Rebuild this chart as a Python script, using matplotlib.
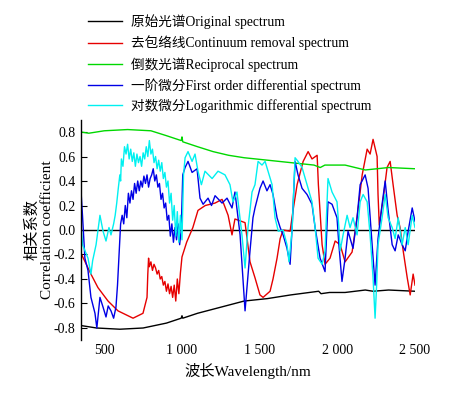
import numpy as np
import matplotlib
matplotlib.use("Agg")
import matplotlib.pyplot as plt

plt.rcParams["font.family"] = ["Liberation Serif", "Noto Sans CJK SC"]
plt.rcParams["axes.unicode_minus"] = False

# (wavelength nm, correlation)
original = [(350, -0.78), (400, -0.79), (450, -0.80), (600, -0.81), (750, -0.80), (900, -0.76),
            (995, -0.72), (1000, -0.70), (1005, -0.72), (1100, -0.68), (1250, -0.63), (1400, -0.58),
            (1550, -0.56), (1700, -0.53), (1880, -0.50), (1895, -0.52), (1950, -0.51), (2050, -0.51),
            (2180, -0.49), (2230, -0.50), (2330, -0.49), (2500, -0.50)]

continuum = [(350, -0.19), (414, -0.36), (459, -0.47), (524, -0.58), (588, -0.66), (685, -0.72),
             (749, -0.68), (775, -0.55), (780, -0.36), (785, -0.23), (790, -0.30), (800, -0.26),
             (810, -0.33), (820, -0.28), (830, -0.31), (840, -0.36), (850, -0.33), (860, -0.40),
             (870, -0.38), (880, -0.45), (890, -0.42), (900, -0.50), (910, -0.44), (920, -0.52),
             (930, -0.46), (940, -0.55), (950, -0.45), (960, -0.58), (970, -0.40), (980, -0.52),
             (990, -0.35), (1000, -0.22), (1030, -0.10), (1070, 0.02), (1103, 0.16), (1150, 0.20),
             (1213, 0.22), (1258, 0.25), (1297, 0.12), (1322, -0.04), (1341, 0.09), (1406, 0.06),
             (1438, -0.26), (1470, -0.39), (1502, -0.53), (1522, -0.55), (1567, -0.50), (1586, -0.40),
             (1612, -0.23), (1632, -0.07), (1651, 0.00), (1696, -0.01), (1715, 0.16), (1741, 0.37),
             (1780, 0.56), (1812, 0.64), (1837, 0.58), (1870, 0.61), (1878, 0.37), (1902, -0.12),
             (1921, -0.28), (1953, -0.23), (1986, -0.09), (2018, -0.12), (2050, -0.26), (2095, -0.18),
             (2127, 0.10), (2160, 0.45), (2192, 0.66), (2211, 0.62), (2230, 0.74), (2256, 0.60),
             (2262, 0.29), (2270, 0.04), (2295, 0.25), (2320, 0.51), (2340, 0.56), (2359, 0.37),
             (2385, 0.12), (2404, 0.02), (2424, -0.17), (2450, -0.39), (2469, -0.53), (2488, -0.36),
             (2500, -0.45)]

reciprocal = [(350, 0.80), (400, 0.79), (500, 0.81), (650, 0.82), (800, 0.81), (900, 0.77),
              (995, 0.73), (1000, 0.76), (1005, 0.72), (1100, 0.68), (1200, 0.64), (1300, 0.61),
              (1400, 0.59), (1550, 0.57), (1700, 0.55), (1850, 0.53), (1890, 0.51), (1920, 0.53),
              (2050, 0.53), (2180, 0.49), (2330, 0.51), (2500, 0.50)]

first_diff = [(350, 0.32), (360, 0.11), (375, -0.23), (395, -0.33), (414, -0.55), (440, -0.68),
              (452, -0.80), (472, -0.55), (492, -0.63), (511, -0.71), (525, -0.62), (543, -0.66),
              (560, -0.72), (575, -0.63), (585, -0.45), (595, -0.20), (605, 0.05), (615, 0.12),
              (625, 0.05), (635, 0.20), (645, 0.10), (655, 0.30), (665, 0.22), (675, 0.32),
              (685, 0.25), (695, 0.38), (705, 0.30), (715, 0.40), (725, 0.32), (735, 0.40),
              (745, 0.35), (755, 0.44), (765, 0.38), (775, 0.45), (785, 0.35), (795, 0.42),
              (805, 0.45), (815, 0.50), (825, 0.40), (835, 0.45), (845, 0.35), (855, 0.38),
              (865, 0.25), (875, 0.30), (885, 0.18), (895, 0.22), (905, 0.08), (915, 0.12),
              (925, -0.05), (935, 0.05), (945, -0.10), (955, 0.02), (965, -0.08), (975, 0.05),
              (985, -0.12), (995, 0.00), (1005, 0.45), (1020, 0.51), (1039, 0.56), (1065, 0.47),
              (1097, 0.50), (1116, 0.26), (1136, 0.21), (1168, 0.26), (1190, 0.20), (1213, 0.28),
              (1258, 0.22), (1290, 0.26), (1322, 0.18), (1341, 0.31), (1374, -0.04), (1406, -0.66),
              (1438, -0.17), (1457, 0.10), (1470, 0.18), (1502, 0.34), (1522, 0.40), (1547, 0.32),
              (1567, 0.37), (1586, 0.29), (1612, 0.10), (1632, 0.02), (1651, -0.04), (1676, -0.15),
              (1696, -0.28), (1709, 0.02), (1728, 0.56), (1747, 0.45), (1773, 0.34), (1805, 0.29),
              (1837, 0.21), (1857, 0.02), (1889, -0.23), (1921, -0.34), (1940, 0.23), (1966, 0.21),
              (1998, 0.10), (2010, -0.12), (2030, -0.42), (2050, -0.23), (2069, -0.01), (2101, -0.15),
              (2127, 0.10), (2147, 0.37), (2179, 0.45), (2198, 0.34), (2224, -0.12), (2243, -0.45),
              (2262, -0.07), (2288, 0.21), (2308, 0.40), (2327, 0.16), (2353, -0.12), (2372, -0.17),
              (2392, -0.04), (2417, -0.12), (2437, -0.17), (2456, -0.01), (2482, 0.18), (2500, 0.07)]

log_diff = [(350, 0.04), (360, -0.12), (395, -0.23), (414, -0.36), (425, -0.25), (447, -0.12),
            (472, 0.12), (492, -0.01), (511, -0.09), (530, 0.02), (543, -0.04), (560, 0.05),
            (570, 0.12), (580, 0.22), (590, 0.34), (600, 0.45), (605, 0.40), (610, 0.58),
            (620, 0.52), (630, 0.68), (640, 0.62), (650, 0.70), (660, 0.58), (670, 0.66),
            (680, 0.56), (690, 0.63), (700, 0.52), (710, 0.62), (720, 0.55), (730, 0.60),
            (740, 0.52), (750, 0.63), (760, 0.58), (770, 0.68), (780, 0.60), (790, 0.73),
            (800, 0.62), (810, 0.66), (820, 0.55), (830, 0.60), (840, 0.50), (850, 0.57),
            (860, 0.48), (870, 0.55), (880, 0.42), (890, 0.47), (900, 0.35), (910, 0.40),
            (920, 0.22), (930, 0.30), (940, 0.08), (950, 0.20), (960, -0.05), (970, 0.15),
            (980, -0.10), (990, 0.12), (1000, -0.08), (1010, 0.45), (1020, 0.59), (1039, 0.64),
            (1065, 0.56), (1084, 0.62), (1103, 0.48), (1125, 0.37), (1148, 0.48), (1194, 0.42),
            (1232, 0.48), (1277, 0.45), (1309, 0.37), (1328, 0.23), (1354, 0.31), (1386, -0.04),
            (1406, -0.31), (1425, 0.02), (1451, 0.31), (1470, 0.37), (1490, 0.56), (1515, 0.53),
            (1535, 0.56), (1554, 0.48), (1580, 0.37), (1599, 0.10), (1620, -0.01), (1651, 0.00),
            (1676, -0.12), (1689, -0.26), (1709, 0.00), (1728, 0.59), (1747, 0.56), (1773, 0.51),
            (1805, 0.37), (1837, 0.23), (1857, 0.02), (1876, -0.23), (1902, -0.28), (1921, -0.17),
            (1940, 0.42), (1966, 0.31), (1998, 0.23), (2010, 0.02), (2018, -0.17), (2037, -0.04),
            (2063, 0.12), (2082, 0.02), (2101, 0.10), (2127, -0.04), (2147, 0.23), (2166, 0.29),
            (2192, 0.23), (2211, -0.04), (2230, -0.39), (2243, -0.72), (2253, -0.45), (2262, -0.12),
            (2288, 0.10), (2308, 0.29), (2327, 0.10), (2353, 0.02), (2372, -0.07), (2392, 0.10),
            (2417, -0.12), (2437, 0.02), (2456, -0.12), (2482, 0.12), (2500, 0.02)]

series = [
    (original, "black", "原始光谱Original spectrum"),
    (continuum, "#e60000", "去包络线Continuum removal spectrum"),
    (reciprocal, "#00d800", "倒数光谱Reciprocal spectrum"),
    (first_diff, "#0000e6", "一阶微分First order differential spectrum"),
    (log_diff, "#00f0f0", "对数微分Logarithmic differential spectrum"),
]

xticks = [500, 1000, 1500, 2000, 2500]
xtick_labels = ["500", "1 000", "1 500", "2 000", "2 500"]
yticks = [-0.8, -0.6, -0.4, -0.2, 0.0, 0.2, 0.4, 0.6, 0.8]

fig = plt.figure(figsize=(4.69, 3.93), dpi=100)
ax = fig.add_axes([81 / 469, 53 / 393, 334 / 469, 220 / 393])

handles = []
for data, color, label in series:
    arr = np.array(data)
    (ln,) = ax.plot(arr[:, 0], arr[:, 1], color=color, lw=1.0, label=label)
    handles.append(ln)
ax.axhline(0, color="black", lw=1.0, zorder=0.5)

ax.set_xlim(350, 2500)
ax.set_ylim(-0.898, 0.898)
ax.set_xticks(xticks)
ax.set_xticklabels(xtick_labels)
ax.set_yticks(yticks)
ax.set_yticklabels([f"{v:.1f}" for v in yticks])
ax.tick_params(axis="x", length=0, labelsize=10, pad=3)
ax.tick_params(axis="y", direction="in", length=4, labelsize=10, pad=4)
for side in ["top", "right", "bottom"]:
    ax.spines[side].set_visible(False)
ax.spines["left"].set_linewidth(1.0)

ax.set_xlabel("波长Wavelength/nm", fontsize=11, labelpad=4)
ax.set_ylabel("相关系数\nCorrelation coefficient", fontsize=11, labelpad=0, linespacing=1.1)

fig.legend(handles=handles, loc="upper left", bbox_to_anchor=(83 / 469, 1 - 9 / 393),
           frameon=False, fontsize=9.8, handlelength=2.5, handletextpad=0.6,
           labelspacing=0.47, borderaxespad=0)

fig.savefig("out.png", dpi=100)
